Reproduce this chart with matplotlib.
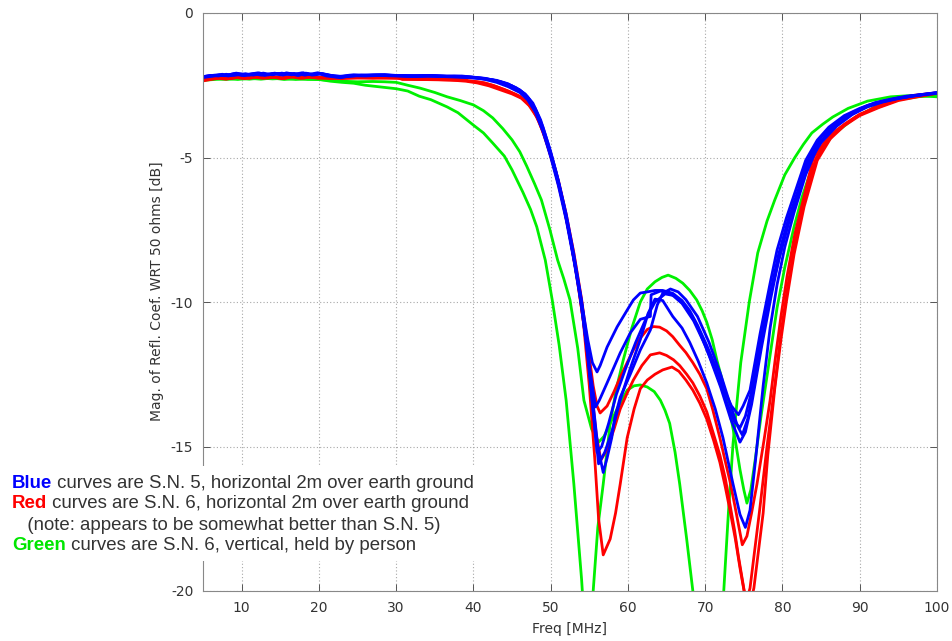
import matplotlib
matplotlib.use("Agg")
import matplotlib.pyplot as plt
from matplotlib.patches import Rectangle

# ---------------- data (Freq MHz, dB) ----------------
blue_1 = [(5,-2.2),(6,-2.17),(7,-2.15),(8,-2.16),(9.3,-2.08),(10.5,-2.14),(12.1,-2.07),(13.2,-2.13),(14.3,-2.08),(15,-2.14),
          (15.8,-2.07),(17,-2.13),(18,-2.08),(19,-2.14),(19.9,-2.08),(21,-2.15),(22.5,-2.2),(24,-2.15),(26,-2.16),(28,-2.14),
          (30,-2.17),(32,-2.18),(34,-2.17),(36,-2.18),(38,-2.2),(40,-2.25),(41.5,-2.28),(43,-2.33),(44.5,-2.45),(46,-2.68),
          (47,-2.93),(48,-3.35),(49,-4.05),(50,-4.9),(51,-5.85),(52,-7.05),(53,-8.45),(54,-10.0),(54.8,-11.3),(55.4,-12.1),
          (56.0,-12.42),(56.4,-12.2),(57.3,-11.56),(58.6,-10.86),(59.9,-10.28),(60.7,-9.93),(61.6,-9.69),(62.5,-9.65),(63.5,-9.6),(64.5,-9.6),
          (65.8,-9.7),(67,-9.95),(68,-10.3),(69,-10.8),(70.2,-11.5),(71.3,-12.2),(72.3,-12.95),(73.4,-13.6),(74.3,-13.9),(74.9,-13.6),
          (75.8,-13.05),(77.1,-11.1),(78.4,-9.35),(79.3,-8.2),(80.5,-7.1),(81.5,-6.3),(83,-5.1),(84.5,-4.4),(86,-3.95),(88,-3.55),
          (90,-3.3),(92,-3.1),(94,-2.98),(96,-2.88),(98,-2.82),(100,-2.76)]

blue_2 = [(5,-2.22),(6,-2.18),(7.5,-2.12),(8.5,-2.17),(9.5,-2.1),(11,-2.15),(12.3,-2.08),(13.5,-2.14),(14.5,-2.09),(16,-2.1),
          (17.5,-2.15),(18.3,-2.08),(19.5,-2.14),(20.3,-2.1),(22,-2.2),(23,-2.22),(25,-2.16),(27,-2.15),(29,-2.17),(31,-2.16),
          (33,-2.18),(35,-2.17),(37,-2.2),(39,-2.21),(40.5,-2.24),(42,-2.3),(43.5,-2.38),(45,-2.52),(46.2,-2.72),(47.2,-2.98),
          (48.2,-3.45),(49.2,-4.2),(50.2,-5.1),(51.2,-6.1),(52.2,-7.35),(53.2,-8.8),(54.2,-10.4),(55,-12.2),(55.8,-13.63),(56.3,-13.4),
          (57.3,-12.8),(59,-11.76),(60.3,-11.07),(61.6,-10.6),(62.9,-10.5),(63.0,-9.75),(64.2,-9.62),(65.5,-9.7),(67,-10.05),(68.5,-10.65),
          (70,-11.5),(71.5,-12.5),(72.8,-13.5),(73.8,-14.15),(74.5,-14.35),(75.2,-13.95),(76,-13.1),(77.2,-11.3),(78.5,-9.6),(79.5,-8.35),
          (80.8,-7.1),(82,-6.15),(83.3,-5.05),(85,-4.3),(87,-3.8),(89,-3.45),(91,-3.2),(93,-3.05),(95,-2.95),(97,-2.86),(100,-2.77)]

blue_3 = [(5,-2.2),(6.5,-2.15),(7.8,-2.17),(9,-2.1),(10,-2.16),(11.5,-2.1),(12.5,-2.15),(14,-2.1),(15.5,-2.12),(16.8,-2.09),
          (18.2,-2.15),(19.8,-2.07),(21.5,-2.16),(23,-2.2),(24.5,-2.14),(26.5,-2.16),(28.5,-2.13),(30.5,-2.17),(32.5,-2.19),(34.5,-2.16),
          (36.5,-2.19),(38.5,-2.18),(40,-2.22),(41.5,-2.26),(43,-2.35),(44.5,-2.48),(46,-2.66),(47,-2.9),(48,-3.3),(49,-3.95),
          (50,-4.8),(51,-5.8),(52,-6.95),(53,-8.35),(54,-9.95),(54.8,-11.7),(55.4,-13.5),(56.0,-15.2),(56.6,-15.0),(57.5,-14.2),
          (58.5,-13.2),(59.7,-12.3),(61,-11.4),(62.3,-10.6),(63.5,-10.0),(64.8,-9.72),(66,-9.78),(67.5,-10.15),(69,-10.85),(70.5,-11.85),
          (72,-12.95),(73.3,-14.05),(74.5,-14.85),(75.2,-14.5),(76,-13.55),(77.3,-11.55),(78.5,-9.85),(79.5,-8.55),(80.8,-7.25),(82,-6.3),
          (83.3,-5.2),(85,-4.42),(87,-3.87),(89,-3.5),(91,-3.25),(93,-3.08),(95,-2.96),(97,-2.87),(100,-2.76)]

blue_4 = [(5,-2.23),(6.2,-2.19),(7.2,-2.14),(8.3,-2.18),(9.3,-2.1),(10.3,-2.17),(12,-2.1),(13,-2.16),(14.3,-2.09),(15.3,-2.15),
          (16.2,-2.1),(17.3,-2.16),(18,-2.08),(19.2,-2.15),(20,-2.1),(21,-2.18),(22.8,-2.24),(24,-2.17),(26,-2.18),(28,-2.16),
          (30,-2.18),(32,-2.2),(34,-2.19),(36,-2.2),(38,-2.22),(40,-2.24),(41.5,-2.3),(43,-2.4),(44.5,-2.55),(46,-2.75),
          (47,-3.0),(48,-3.42),(49,-4.1),(50,-4.98),(51,-5.98),(52,-7.15),(53,-8.55),(54,-10.15),(54.8,-11.9),(55.5,-13.8),
          (56.2,-15.6),(57,-15.2),(57.9,-14.5),(59,-13.4),(60.3,-12.3),(61.6,-11.3),(62.6,-10.4),(63.5,-9.9),(64.5,-9.95),(65.8,-10.5),
          (67,-10.9),(68,-11.4),(69.1,-12.05),(70.2,-12.8),(71.3,-13.7),(72.3,-14.7),(73.6,-16.3),(74.5,-17.35),(75.2,-17.8),(75.8,-17.2),
          (76.5,-15.5),(77.5,-12.9),(78.4,-10.9),(79.3,-9.4),(80.3,-8.1),(81.5,-6.9),(83,-5.6),(84.5,-4.65),(86,-4.1),(88,-3.62),
          (90,-3.32),(92,-3.12),(95,-2.94),(97.5,-2.85),(100,-2.78)]

blue_5 = [(5,-2.21),(6,-2.16),(7,-2.18),(8,-2.12),(9,-2.16),(10.5,-2.1),(11.5,-2.15),(12.8,-2.08),(14,-2.14),(15.2,-2.08),
          (16.5,-2.14),(17.8,-2.07),(19,-2.13),(20.5,-2.1),(22,-2.18),(23.5,-2.2),(25.5,-2.15),(27.5,-2.14),(29.5,-2.16),(31.5,-2.17),
          (33.5,-2.16),(35.5,-2.19),(37.5,-2.18),(39.5,-2.21),(41,-2.25),(42.5,-2.31),(44,-2.42),(45.5,-2.58),(46.7,-2.8),(47.7,-3.12),
          (48.7,-3.7),(49.7,-4.55),(50.7,-5.5),(51.7,-6.65),(52.7,-8.0),(53.7,-9.6),(54.6,-11.4),(55.4,-13.3),(56.1,-15.0),(56.8,-15.9),
          (57.3,-15.4),(57.9,-14.7),(58.3,-14.0),(59,-13.3),(60.3,-12.5),(61.6,-11.66),(62.9,-10.97),(63.8,-10.1),(64.5,-9.7),(65.5,-9.55),
          (66.5,-9.65),(67.5,-9.92),(69,-10.5),(70.5,-11.4),(72,-12.5),(73.3,-13.6),(74.2,-14.3),(74.8,-14.6),(75.5,-14.05),(76.3,-12.95),
          (77.5,-11.05),(78.7,-9.45),(79.8,-8.25),(81,-7.05),(82.3,-6.05),(83.5,-5.15),(85,-4.48),(87,-3.92),(89,-3.52),(91,-3.23),
          (93,-3.06),(95,-2.95),(97,-2.86),(100,-2.75)]

red_1 = [(5,-2.3),(6,-2.28),(7,-2.25),(8,-2.27),(9,-2.21),(10,-2.25),(11.5,-2.2),(12.5,-2.24),(14,-2.2),(15,-2.25),
         (16.3,-2.19),(17.5,-2.23),(18.5,-2.2),(19.8,-2.24),(21,-2.22),(22.5,-2.25),(24,-2.22),(26,-2.23),(28,-2.22),(30,-2.22),
         (30.8,-2.3),(33,-2.3),(35,-2.31),(37,-2.32),(38.8,-2.33),(40,-2.36),(41.5,-2.42),(43,-2.55),(44.5,-2.7),(46,-2.88),
         (47,-3.1),(48,-3.45),(49,-4.05),(50,-4.85),(51,-5.8),(52,-6.95),(53,-8.3),(54,-9.9),(54.8,-11.5),(55.5,-12.9),
         (56.0,-13.6),(56.4,-13.84),(57.3,-13.6),(58.2,-13.1),(59,-12.6),(59.9,-12.1),(60.7,-11.66),(61.6,-11.25),(62.5,-10.95),(63.3,-10.85),
         (64.1,-10.87),(65,-11.0),(65.8,-11.2),(66.7,-11.5),(67.5,-11.75),(68.4,-12.1),(69.3,-12.5),(70.2,-13.0),(71,-13.75),(71.9,-14.7),
         (72.5,-15.4),(73.2,-16.2),(73.8,-17.0),(74.3,-17.7),(74.8,-18.4),(75.4,-18.1),(76,-17.3),(76.7,-16.3),(77.6,-14.8),(78.4,-13.4),
         (79.1,-11.9),(79.8,-10.5),(80.6,-9.1),(81.6,-7.65),(82.7,-6.45),(84.0,-5.0),(85.5,-4.45),(87,-4.05),(89.5,-3.6),(92,-3.25),
         (94.3,-3.0),(97,-2.85),(100,-2.76)]

red_2 = [(5,-2.32),(6.3,-2.27),(7.5,-2.23),(8.6,-2.27),(9.8,-2.22),(11,-2.26),(12.2,-2.2),(13.4,-2.25),(14.6,-2.21),(15.6,-2.26),
         (16.8,-2.2),(18,-2.25),(19.3,-2.2),(20.4,-2.24),(21.6,-2.27),(23,-2.24),(25,-2.24),(27,-2.23),(29,-2.25),(31,-2.24),
         (33,-2.26),(35,-2.27),(37,-2.28),(38.8,-2.28),(39.3,-2.35),(41,-2.4),(42.5,-2.5),(44,-2.65),(45.5,-2.82),(46.6,-3.0),
         (47.6,-3.3),(48.6,-3.82),(49.6,-4.6),(50.6,-5.5),(51.6,-6.6),(52.6,-7.9),(53.6,-9.45),(54.5,-11.2),(55.3,-13.1),(55.9,-14.6),
         (56.5,-15.47),(57.3,-15.1),(58.2,-14.4),(59,-13.7),(59.9,-13.15),(60.7,-12.7),(61.8,-12.2),(62.9,-11.83),(64.1,-11.76),(65,-11.85),
         (65.9,-12.0),(66.7,-12.2),(67.6,-12.5),(68.4,-12.8),(69.3,-13.25),(70.2,-13.8),(71,-14.5),(71.9,-15.3),(72.6,-16.1),(73.2,-17.0),
         (73.8,-17.9),(74.3,-18.8),(74.8,-19.6),(75.3,-20.4),(75.8,-19.9),(76.4,-18.6),(77,-17.3),(78,-15.0),(79,-12.9),(79.8,-11.1),
         (80.6,-9.6),(81.6,-8.0),(82.7,-6.6),(84.3,-5.05),(86,-4.3),(88,-3.85),(90,-3.5),(92.5,-3.25),(95,-3.0),(97.5,-2.88),(100,-2.77)]

red_3 = [(5,-2.35),(6,-2.3),(7,-2.26),(8,-2.29),(9.2,-2.23),(10.4,-2.27),(11.6,-2.22),(12.8,-2.26),(14,-2.22),(15.2,-2.27),
         (16.4,-2.21),(17.6,-2.26),(18.8,-2.22),(20,-2.26),(21.5,-2.25),(23,-2.27),(25,-2.25),(27,-2.26),(29,-2.25),(31,-2.27),
         (33,-2.3),(35,-2.3),(37,-2.32),(39,-2.36),(40.5,-2.42),(42,-2.52),(43.5,-2.66),(45,-2.8),(46.2,-2.95),(47.2,-3.2),
         (48.2,-3.6),(49.2,-4.25),(50.2,-5.1),(51.2,-6.1),(52.2,-7.3),(53.2,-8.8),(54.2,-10.6),(55,-12.9),(55.7,-15.4),(56.2,-17.5),
         (56.8,-18.75),(57.7,-18.2),(58.4,-17.3),(59,-16.3),(59.9,-14.7),(60.8,-13.7),(61.6,-13.0),(62.5,-12.7),(63.5,-12.5),(64.5,-12.35),
         (65.7,-12.25),(66.6,-12.4),(67.5,-12.7),(68.4,-13.05),(69.3,-13.5),(70.2,-14.05),(71.1,-14.8),(71.9,-15.55),(72.6,-16.4),(73.2,-17.2),
         (73.9,-18.2),(74.5,-19.2),(75.1,-20.1),(75.7,-20.6),(76.3,-19.9),(76.9,-18.6),(77.5,-17.3),(78.1,-15.3),(79.0,-13.0),(79.8,-11.3),
         (80.5,-10.0),(81.5,-8.35),(82.8,-6.7),(84.5,-5.1),(86.2,-4.35),(88,-3.9),(90,-3.55),(92.5,-3.27),(95,-3.03),(97.5,-2.9),(100,-2.78)]

green_1 = [(5,-2.33),(6.5,-2.3),(8,-2.27),(9.5,-2.3),(11,-2.26),(12.5,-2.29),(14,-2.25),(15.5,-2.3),(17,-2.27),(18.5,-2.3),
           (20,-2.3),(21.5,-2.36),(23,-2.4),(24.5,-2.43),(26,-2.5),(28,-2.56),(30,-2.62),(31.5,-2.7),(33,-2.88),(34.5,-3.0),
           (36.6,-3.25),(38,-3.45),(40,-3.88),(41.3,-4.15),(42.5,-4.5),(44,-4.95),(45,-5.43),(46.4,-6.2),(47.4,-6.8),(48.2,-7.4),
           (49.3,-8.55),(50.2,-9.93),(51.1,-11.5),(52,-13.4),(53,-16.3),(54,-19.6),(54.7,-22.5),(55.5,-20),(56.1,-17.8),(56.8,-16.3),
           (57.7,-14.2),(58.5,-13.0),(59.4,-12.0),(60.5,-10.9),(61.6,-10.0),(62.5,-9.55),(63.5,-9.3),(64.4,-9.15),(65.2,-9.07),(66.2,-9.18),
           (67.1,-9.35),(68,-9.6),(68.9,-9.93),(69.6,-10.3),(70.2,-10.7),(70.9,-11.3),(71.5,-12.0),(72.2,-12.7),(72.8,-13.4),(73.4,-14.1),
           (73.9,-14.8),(74.5,-15.8),(75.0,-16.5),(75.4,-16.96),(75.9,-16.5),(76.5,-15.4),(77.2,-14.0),(78.2,-12.2),(79.3,-10.2),(80.3,-8.8),
           (81.5,-7.4),(82.5,-6.4),(83.5,-5.6),(85,-4.75),(86.6,-4.2),(89.5,-3.6),(92,-3.25),(95,-3.0),(97.5,-2.9),(100,-2.85)]

green_2 = [(5,-2.3),(6.5,-2.27),(8,-2.3),(9.5,-2.26),(11,-2.29),(12.5,-2.25),(14,-2.28),(15.5,-2.26),(17,-2.3),(18.5,-2.27),
           (20,-2.3),(21.5,-2.33),(23,-2.36),(25,-2.38),(27,-2.37),(28.5,-2.38),(30,-2.4),(31.5,-2.5),(33.1,-2.6),(35,-2.75),
           (36.6,-2.9),(38.3,-3.03),(40,-3.18),(41.3,-3.38),(42.5,-3.63),(43.8,-4.0),(45,-4.39),(46,-4.8),(46.9,-5.3),(47.9,-5.9),
           (48.8,-6.47),(49.9,-7.5),(50.9,-8.55),(51.7,-9.2),(52.5,-9.93),(53.5,-11.6),(54.3,-13.4),(55.3,-14.4),(56.2,-14.85),(56.9,-14.65),
           (57.8,-14.15),(58.6,-13.7),(59.9,-13.05),(60.8,-12.9),(61.6,-12.87),(62.5,-12.94),(63.4,-13.1),(64.2,-13.4),(64.8,-13.75),(65.4,-14.2),
           (66.1,-15.2),(66.7,-16.3),(67.6,-18.2),(68.4,-20),(69.5,-23),(70.5,-25),(71.5,-23),(72.4,-20),(73.0,-17.3),(73.6,-14.9),
           (74.6,-12.1),(75.7,-10.0),(76.8,-8.3),(78,-7.2),(79,-6.47),(80.3,-5.6),(81.6,-5.0),(82.7,-4.55),(83.8,-4.15),(85.2,-3.85),
           (86.5,-3.6),(88.5,-3.3),(91,-3.05),(94,-2.9),(97,-2.85),(100,-2.9)]

blue_curves = [blue_1, blue_2, blue_3, blue_4, blue_5]
red_curves = [red_1, red_2, red_3]
green_curves = [green_1, green_2]

x_ticks = [10, 20, 30, 40, 50, 60, 70, 80, 90, 100]
y_ticks = [0, -5, -10, -15, -20]

note_lines = [
    ("Blue", "#0000ff", " curves are S.N. 5, horizontal 2m over earth ground"),
    ("Red", "#ff0000", " curves are S.N. 6, horizontal 2m over earth ground"),
    ("", "#000000", "   (note: appears to be somewhat better than S.N. 5)"),
    ("Green", "#00e600", " curves are S.N. 6, vertical, held by person"),
]

# ---------------- figure ----------------
W, H = 952, 641
fig = plt.figure(figsize=(W / 100, H / 100), dpi=100)
ax = fig.add_axes([203 / W, (H - 591) / H, 734 / W, 578 / H])

lw = 2.0
for c in green_curves:
    f, d = zip(*c)
    ax.plot(f, d, color="#00f000", lw=lw, solid_joinstyle="round")
for c in red_curves:
    f, d = zip(*c)
    ax.plot(f, d, color="#ff0000", lw=lw, solid_joinstyle="round")
for c in blue_curves:
    f, d = zip(*c)
    ax.plot(f, d, color="#0000ff", lw=lw, solid_joinstyle="round")

ax.set_xlim(5, 100)
ax.set_ylim(-20, 0)
ax.set_xticks(x_ticks)
ax.set_yticks(y_ticks)
ax.set_yticklabels([str(v) for v in y_ticks])
ax.grid(True, color="#a8a8a8", lw=0.8, ls=(0, (1, 2)))
ax.tick_params(direction="in", top=True, right=True, length=5, width=0.7,
               color="#555555", labelsize=10, labelcolor="#333333", pad=7)
for s in ax.spines.values():
    s.set_color("#888888")
    s.set_linewidth(0.8)

ax.set_xlabel("Freq [MHz]", fontsize=10, color="#333333")
ax.xaxis.set_label_coords(0.5, (591 - 629) / 578)
ax.xaxis.label.set_va("center")
ax.set_ylabel("Mag. of Refl. Coef. WRT 50 ohms [dB]", fontsize=10, color="#333333")
ax.yaxis.set_label_coords((157 - 203) / 734, (591 - 291) / 578)
ax.yaxis.label.set_va("center")

# white box behind the notes
fig.patches.append(Rectangle((0, (H - 561) / H), 478 / W, 95 / H,
                             transform=fig.transFigure, facecolor="white",
                             edgecolor="none", zorder=5))

renderer = fig.canvas.get_renderer()
baselines = [488, 508.5, 529.5, 550.5]
for (word, col, rest), yb in zip(note_lines, baselines):
    x0 = 12 / W
    yy = (H - yb) / H
    if word:
        t = fig.text(x0, yy, word, color=col, fontsize=13.4, fontweight="bold",
                     family="Liberation Sans", va="baseline", ha="left", zorder=6)
        bb = t.get_window_extent(renderer)
        x0 = bb.x1 / W
    fig.text(x0, yy, rest, color="#333333", fontsize=13.4,
             family="Liberation Sans", va="baseline", ha="left", zorder=6)

fig.savefig("out.png", dpi=100)
